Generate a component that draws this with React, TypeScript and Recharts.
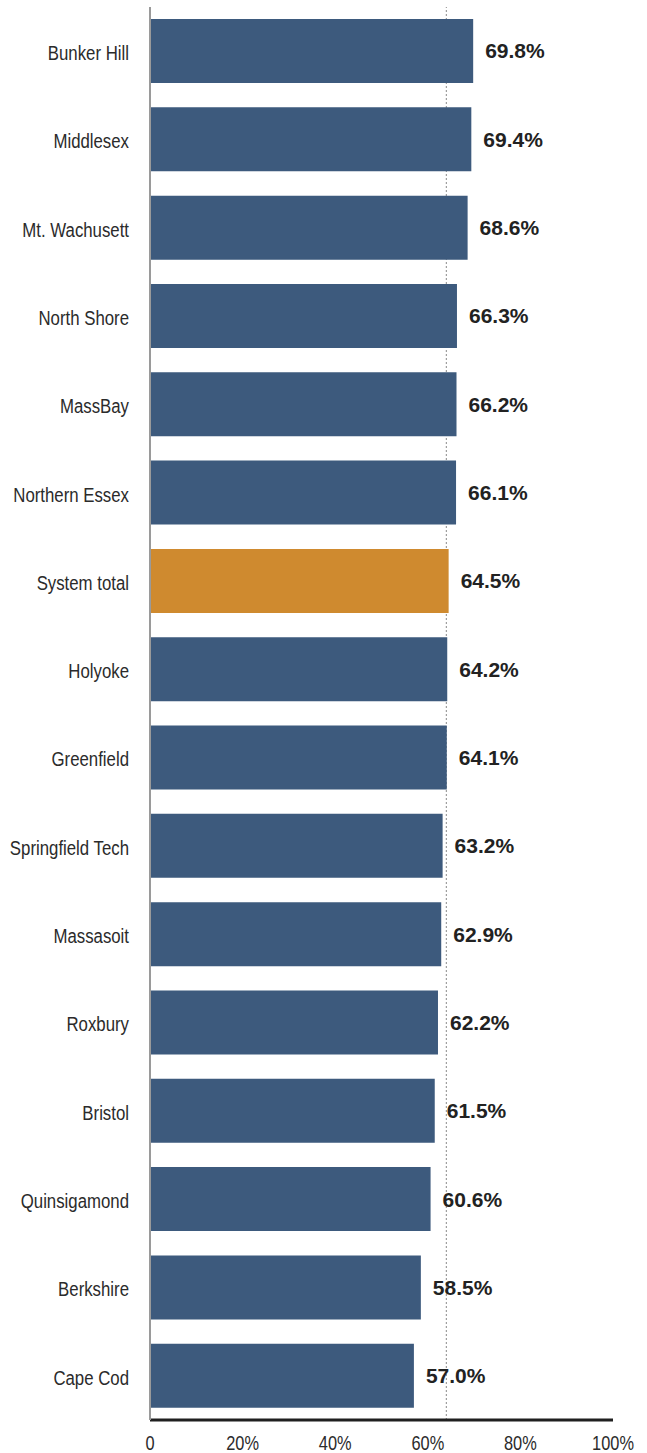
import React from "react";
import { BarChart, Bar, XAxis, YAxis, ReferenceLine, LabelList, Cell } from "recharts";

const colleges = [
  "Bunker Hill",
  "Middlesex",
  "Mt. Wachusett",
  "North Shore",
  "MassBay",
  "Northern Essex",
  "System total",
  "Holyoke",
  "Greenfield",
  "Springfield Tech",
  "Massasoit",
  "Roxbury",
  "Bristol",
  "Quinsigamond",
  "Berkshire",
  "Cape Cod",
];
const rates = [69.8, 69.4, 68.6, 66.3, 66.2, 66.1, 64.5, 64.2, 64.1, 63.2, 62.9, 62.2, 61.5, 60.6, 58.5, 57.0];
const xTicks = [0, 20, 40, 60, 80, 100];
const referenceValue = 64;
const highlight = "System total";

const data = colleges.map((name, i) => ({ name, value: rates[i] }));

const BLUE = "#3D5A7D";
const ORANGE = "#CF8A2F";
const condensedFont = "'Liberation Sans', Arial, sans-serif";

const YTick = (props: any) => {
  const { x, y, payload } = props;
  return (
    <g transform={`translate(${x},${y})`}>
      <text
        transform="scale(0.8,1)"
        x={0}
        y={0}
        dy="0.42em"
        textAnchor="end"
        fontFamily={condensedFont}
        fontSize={21}
        fill="#2b2b2b"
      >
        {payload.value}
      </text>
    </g>
  );
};

const XTick = (props: any) => {
  const { x, y, payload } = props;
  const label = payload.value === 0 ? "0" : `${payload.value}%`;
  return (
    <g transform={`translate(${x},${y})`}>
      <text
        transform="scale(0.78,1)"
        x={0}
        y={0}
        dy="0.71em"
        textAnchor="middle"
        fontFamily={condensedFont}
        fontSize={21}
        fill="#2b2b2b"
      >
        {label}
      </text>
    </g>
  );
};

export default function App() {
  return (
    <div style={{ position: "absolute", left: 0, top: 0, background: "#fff" }}>
      <BarChart
        width={647}
        height={1453}
        data={data}
        layout="vertical"
        margin={{ top: 7, right: 34, bottom: 0, left: 0 }}
      >
        <XAxis
          type="number"
          domain={[0, 100]}
          ticks={xTicks}
          tick={<XTick />}
          tickLine={false}
          tickSize={0}
          tickMargin={15}
          height={33}
          axisLine={{ stroke: "#1f1f1f", strokeWidth: 3 }}
          interval={0}
        />
        <YAxis
          type="category"
          dataKey="name"
          width={150}
          tick={<YTick />}
          tickLine={false}
          tickSize={0}
          tickMargin={21}
          axisLine={{ stroke: "#9a9a9a", strokeWidth: 2 }}
          interval={0}
        />
        <ReferenceLine
          x={referenceValue}
          stroke="#8a8a8a"
          strokeDasharray="2 2"
          strokeWidth={1}
          zIndex={100}
        />
        <Bar dataKey="value" barSize={64} isAnimationActive={false}>
          {data.map((d) => (
            <Cell key={d.name} fill={d.name === highlight ? ORANGE : BLUE} />
          ))}
          <LabelList
            dataKey="value"
            position="right"
            offset={12}
            formatter={(v: any) => `${Number(v).toFixed(1)}%`}
            style={{
              fontFamily: "'Liberation Sans', Arial, sans-serif",
              fontWeight: 700,
              fontSize: 21,
              fill: "#222",
            }}
          />
        </Bar>
      </BarChart>
    </div>
  );
}
